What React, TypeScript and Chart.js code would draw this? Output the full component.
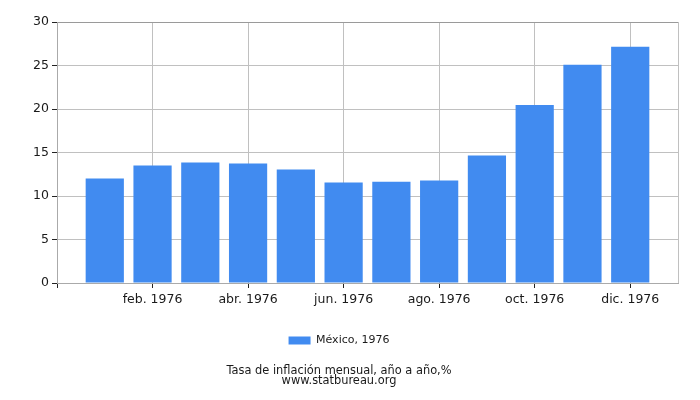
import { useEffect, useRef } from "react"
import { Chart, registerables } from "chart.js"

Chart.register(...registerables)

const months = [
  "ene. 1976", "feb. 1976", "mar. 1976", "abr. 1976", "may. 1976", "jun. 1976",
  "jul. 1976", "ago. 1976", "sep. 1976", "oct. 1976", "nov. 1976", "dic. 1976",
]
const inflation = [12.0, 13.5, 13.85, 13.73, 13.04, 11.54, 11.65, 11.77, 14.65, 20.46, 25.08, 27.15]
const xTicks = [0, 2, 4, 6, 8, 10, 12, 13]
const yTicks = [0, 5, 10, 15, 20, 25, 30]

const seriesLabel = "México, 1976"
const titleLines = ["Tasa de inflación mensual, año a año,%", "www.statbureau.org"]

const FONT = "'DejaVu Sans', sans-serif"
const TEXT = "#1a1a1a"

export default function App() {
  const chartRef = useRef<HTMLCanvasElement>(null)
  const chartInstance = useRef<Chart | null>(null)

  useEffect(() => {
    if (!chartRef.current) return
    if (chartInstance.current) chartInstance.current.destroy()

    const ctx = chartRef.current.getContext("2d")
    if (!ctx) return

    const points = inflation.map((v, i) => ({ x: i + 1, y: v }))

    chartInstance.current = new Chart(ctx, {
      type: "bar",
      data: {
        datasets: [
          {
            label: seriesLabel,
            data: points,
            backgroundColor: "#418bf0",
            borderWidth: 0,
            barPercentage: 1,
            categoryPercentage: 0.8,
          },
        ],
      },
      options: {
        animation: false,
        responsive: true,
        maintainAspectRatio: false,
        layout: { padding: { left: 0, right: 22, top: 22, bottom: 0 } },
        plugins: {
          tooltip: { enabled: false },
          legend: {
            position: "bottom",
            labels: {
              boxWidth: 22,
              boxHeight: 8,
              padding: 10,
              color: TEXT,
              font: { family: FONT, size: 11 },
            },
          },
          title: {
            display: true,
            position: "bottom",
            text: titleLines,
            color: TEXT,
            font: { family: FONT, size: 11.4, weight: "normal", lineHeight: 10 / 11.4 },
            padding: { top: 10, bottom: 14 },
          },
        },
        scales: {
          x: {
            type: "linear",
            min: 0,
            max: 13,
            offset: false,
            afterBuildTicks: (scale) => {
              scale.ticks = xTicks.map((v) => ({ value: v }))
            },
            afterFit: (scale) => {
              scale.height = 42
            },
            ticks: {
              autoSkip: false,
              maxRotation: 0,
              padding: 4,
              color: TEXT,
              font: { family: FONT, size: 12.5 },
              callback: (value) => {
                const v = Number(value)
                return v >= 1 && v <= 12 ? months[v - 1] : ""
              },
            },
            grid: {
              offset: false,
              color: "#c0c0c0",
              tickLength: 5,
              tickColor: (c) => (c.tick && c.tick.value === 13 ? "rgba(0,0,0,0)" : "#222"),
            },
            border: { color: "#aaaaaa" },
          },
          y: {
            min: 0,
            max: 30,
            afterBuildTicks: (scale) => {
              scale.ticks = yTicks.map((v) => ({ value: v }))
            },
            afterFit: (scale) => {
              scale.width = 57
            },
            ticks: {
              padding: 3,
              color: TEXT,
              font: { family: FONT, size: 12.5 },
            },
            grid: {
              color: (c) => (c.tick && c.tick.value === 30 ? "#9a9a9a" : "#c0c0c0"),
              tickLength: 5,
              tickColor: "#222",
            },
            border: { color: "#aaaaaa" },
          },
        },
      },
    })

    return () => {
      if (chartInstance.current) {
        chartInstance.current.destroy()
        chartInstance.current = null
      }
    }
  }, [])

  return (
    <div style={{ position: "fixed", left: 0, top: 0, width: 700, height: 400, background: "#fff" }}>
      <canvas ref={chartRef}></canvas>
    </div>
  )
}
